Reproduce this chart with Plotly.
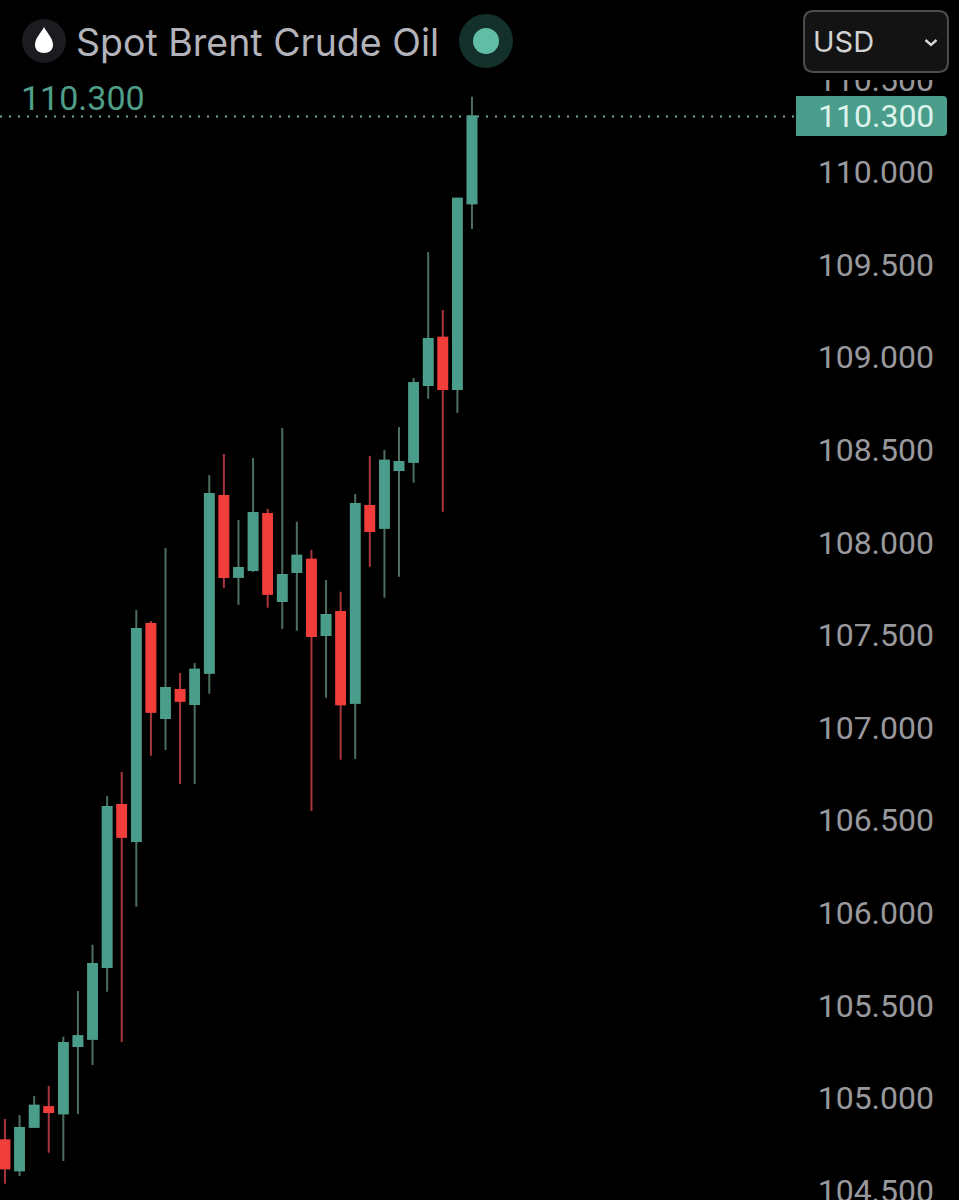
import plotly.graph_objects as go

opens = [104.77, 104.61, 104.845, 104.95, 104.917, 105.28, 105.32, 105.707, 106.582, 106.387, 107.559,
         107.052, 107.203, 107.127, 107.296, 108.25, 107.815, 107.851, 108.153, 107.683, 107.84,
         107.906, 107.5, 107.624, 107.134, 108.196, 108.079, 108.391, 108.436, 108.85, 109.105,
         108.828, 109.831]
highs = [104.887, 104.908, 105.01, 105.064, 105.331, 105.577, 105.827, 106.63, 106.76, 107.635, 107.575,
         107.97, 107.295, 107.349, 108.364, 108.477, 108.121, 108.456, 108.18, 108.618, 108.112,
         107.959, 107.797, 107.734, 108.261, 108.466, 108.499, 108.623, 108.888, 109.568, 109.255,
         109.856, 110.407]
lows = [104.537, 104.578, 104.838, 104.704, 104.659, 104.913, 105.178, 105.574, 105.302, 106.033, 106.848,
        106.879, 106.695, 106.695, 107.183, 107.754, 107.662, 107.84, 107.647, 107.532, 107.523,
        106.549, 107.161, 106.826, 106.83, 107.869, 107.701, 107.815, 108.322, 108.776, 108.166,
        108.699, 109.692]
closes = [104.62, 104.838, 104.958, 104.924, 105.297, 105.333, 105.723, 106.571, 106.411, 107.532, 107.086,
          107.214, 107.145, 107.312, 108.261, 107.813, 107.862, 108.159, 107.723, 107.824, 107.928,
          107.494, 107.608, 107.126, 108.207, 108.061, 108.441, 108.434, 108.861, 109.098, 108.828,
          109.856, 110.3]
tick_vals = [104.5, 105.0, 105.5, 106.0, 106.5, 107.0, 107.5, 108.0, 108.5, 109.0, 109.5, 110.0, 110.5]

W = 959
H = 1200
FONT = "Inter"
NUM_FONT = "Roboto"
GREEN = "#4a9d8a"
RED = "#f23e3a"
GREEN_WICK = "#4b6f5c"
RED_WICK = "#a8363c"

xs = list(range(len(opens)))
last = closes[-1]
body_hi = [max(a, b) for a, b in zip(opens, closes)]
body_lo = [min(a, b) for a, b in zip(opens, closes)]


def px(x):
    return x / W


def py(y):
    return 1 - y / H


def box(x0, y0, x1, y1, fill, line=None, width=0):
    return dict(type="rect", xref="paper", yref="paper", x0=px(x0), x1=px(x1), y0=py(y0), y1=py(y1),
                fillcolor=fill, line=dict(color=line or fill, width=width), layer="above")


def dot(cx, cy, r, fill):
    return dict(type="circle", xref="paper", yref="paper", x0=px(cx - r), x1=px(cx + r),
                y0=py(cy - r), y1=py(cy + r), fillcolor=fill, line=dict(width=0), layer="above")


def path(points, fill=None, line=None, width=0):
    # points are (command, x, y, x, y...) in page pixels
    d = ""
    for p in points:
        d += p[0]
        vals = p[1:]
        for i in range(0, len(vals), 2):
            d += " %.5f,%.5f " % (px(vals[i]), py(vals[i + 1]))
    return dict(type="path", xref="paper", yref="paper", path=d, fillcolor=fill or "rgba(0,0,0,0)",
                line=dict(color=line or "rgba(0,0,0,0)", width=width), layer="above")


fig = go.Figure()

# wicks
fig.add_trace(go.Candlestick(
    x=xs, open=opens, high=highs, low=lows, close=closes, whiskerwidth=0,
    increasing=dict(line=dict(color=GREEN_WICK, width=2), fillcolor=GREEN),
    decreasing=dict(line=dict(color=RED_WICK, width=2), fillcolor=RED),
    showlegend=False,
))
# bodies on top so the outline takes the fill colour
fig.add_trace(go.Candlestick(
    x=xs, open=opens, high=body_hi, low=body_lo, close=closes, whiskerwidth=0,
    increasing=dict(line=dict(color=GREEN, width=2), fillcolor=GREEN),
    decreasing=dict(line=dict(color=RED, width=2), fillcolor=RED),
    showlegend=False,
))

shapes = [
    dict(type="line", xref="paper", yref="y", x0=0, x1=px(796), y0=last, y1=last,
         line=dict(color="#7aa89d", width=2, dash="2px,7px"), layer="below"),
    # hides the top half of the clipped 110.500 label
    box(790, 0, W, 80, "#000000"),
    dict(type="path", xref="paper", yref="paper", layer="above", fillcolor=GREEN, line=dict(width=0),
         path="M %.5f,%.5f L %.5f,%.5f Q %.5f,%.5f %.5f,%.5f L %.5f,%.5f Q %.5f,%.5f %.5f,%.5f L %.5f,%.5f Z" % (
             px(796), py(96), px(943), py(96), px(947), py(96), px(947), py(100),
             px(947), py(132), px(947), py(136), px(943), py(136), px(796), py(136))),
    path([("M", 814, 11), ("L", 938, 11), ("Q", 948, 11, 948, 21), ("L", 948, 62), ("Q", 948, 72, 938, 72),
          ("L", 814, 72), ("Q", 804, 72, 804, 62), ("L", 804, 21), ("Q", 804, 11, 814, 11), ("Z",)],
         fill="#131313", line="#4c4c4c", width=2),
    path([("M", 925.5, 40), ("L", 931, 45), ("L", 936.5, 40)], line="#d6d6d6", width=2.4),
    dot(44, 41, 22, "#1b1b20"),
    path([("M", 44, 27), ("C", 41, 33, 35, 38, 35, 45), ("C", 35, 50, 39, 53, 44, 53),
          ("C", 49, 53, 53, 50, 53, 45), ("C", 53, 38, 47, 33, 44, 27), ("Z",)], fill="#ffffff"),
    dot(486, 41, 27, "#13302b"),
    dot(486, 41, 13, "#62bda6"),
]

annotations = [
    dict(xref="paper", yref="paper", x=px(74), y=py(42), xanchor="left", yanchor="middle", showarrow=False,
         text="Spot Brent Crude Oil", font=dict(family=FONT, size=37.5, color="#b3b3bb")),
    dict(xref="paper", yref="paper", x=px(19), y=py(98), xanchor="left", yanchor="middle", showarrow=False,
         text="%.3f" % last, font=dict(family=NUM_FONT, size=34, color="#4f9e87")),
    dict(xref="paper", yref="y", x=px(936), y=last, xanchor="right", yanchor="middle", showarrow=False,
         text="%.3f" % last, font=dict(family=NUM_FONT, size=32, color="#dcf3ed")),
    dict(xref="paper", yref="paper", x=px(810.5), y=py(41), xanchor="left", yanchor="middle", showarrow=False,
         text="USD", font=dict(family=FONT, size=29, color="#d2d2d2")),
]

fig.update_layout(
    width=W, height=H,
    margin=dict(l=0, r=0, t=0, b=0, pad=0),
    paper_bgcolor="#000000", plot_bgcolor="#000000",
    boxmode="overlay", boxgap=0.15,
    hovermode=False, showlegend=False,
    shapes=shapes, annotations=annotations,
    xaxis=dict(range=[-0.34, 65.37], showgrid=False, zeroline=False, showticklabels=False, ticks="",
               showline=False, rangeslider=dict(visible=False), fixedrange=True),
    yaxis=dict(range=[104.449, 110.929], side="right", tickmode="array", tickvals=tick_vals, tickformat=".3f",
               ticklabelposition="inside", ticklabelstandoff=22, ticklabeloverflow="allow", showgrid=False,
               zeroline=False, ticks="", showline=False, automargin=False, fixedrange=True,
               tickfont=dict(family=NUM_FONT, size=32, color="#98989d")),
)

fig.write_html("out.html", config=dict(displayModeBar=False),
               post_script="document.body.style.margin='0';document.body.style.background='#000';"
                           "document.body.style.overflow='hidden';")
